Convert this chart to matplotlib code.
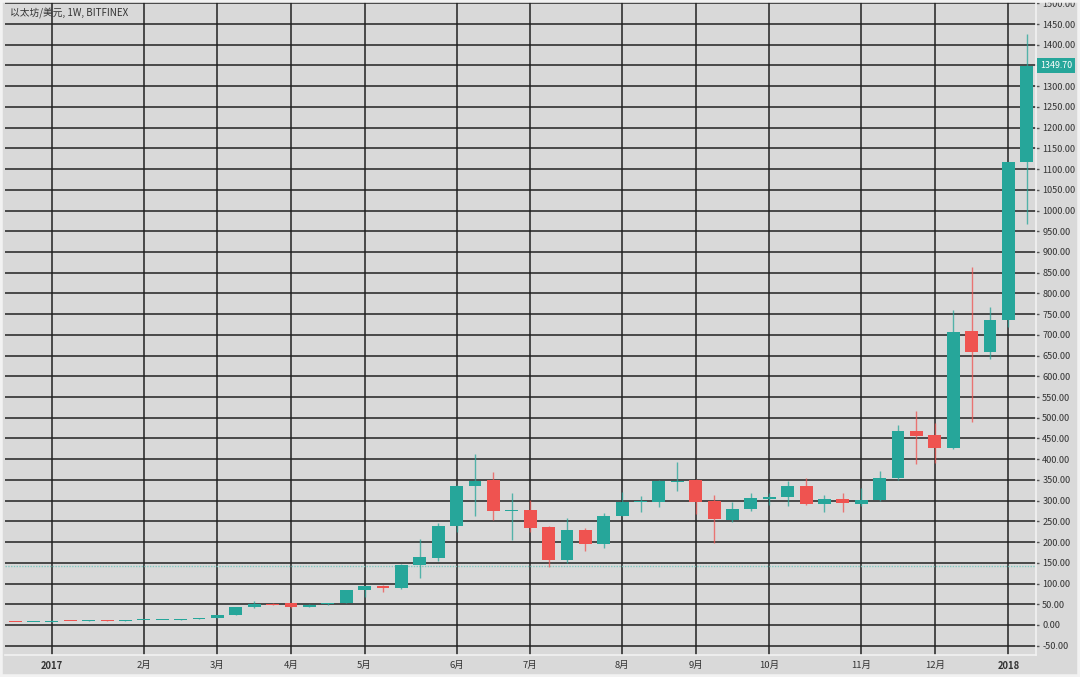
import numpy as np
import pandas as pd
import matplotlib
matplotlib.use("Agg")
import matplotlib.pyplot as plt
import matplotlib.patches as patches

plt.rcParams['font.family'] = ['Noto Sans CJK SC', 'DejaVu Sans']

# weekly ETH/USD candles (Bitfinex), week start dates
week_start = pd.date_range("2016-12-19", periods=56, freq="7D")
opens = [7.9, 7.2, 8.2, 10.4, 9.8, 10.8, 10.5, 11.3, 11.5, 12.8,
         14.2, 18.0, 23.4, 42.7, 51.0, 52.4, 43.0, 49.5, 53.8, 84.0,
         95.0, 90.0, 145.0, 162.0, 240.0, 336.0, 349.0, 276.0, 277.0, 236.0,
         157.0, 228.0, 195.0, 264.0, 296.0, 297.0, 346.0, 350.0, 299.0, 253.0,
         280.0, 304.0, 308.0, 336.0, 292.0, 304.0, 292.0, 302.0, 354.0, 468.0,
         458.0, 428.0, 709.0, 659.0, 736.0, 1116.0]
closes = [7.2, 8.0, 9.6, 9.8, 10.6, 10.5, 11.3, 11.5, 12.8, 14.2,
          17.8, 23.0, 42.7, 50.7, 49.0, 43.0, 49.0, 53.0, 84.0, 94.0,
          90.0, 145.0, 163.0, 240.0, 336.0, 348.0, 276.0, 277.0, 233.0, 157.0,
          228.0, 195.0, 264.0, 296.0, 299.0, 348.0, 348.0, 297.0, 255.0, 281.0,
          306.0, 310.0, 336.0, 292.0, 304.0, 295.0, 302.0, 354.0, 468.0, 457.0,
          428.0, 708.0, 659.0, 736.0, 1116.0, 1349.7]
highs = [8.1, 8.3, 11.0, 10.7, 11.0, 11.0, 11.6, 11.8, 13.1, 14.5,
         18.0, 24.0, 44.0, 58.5, 52.0, 53.0, 50.0, 54.0, 85.0, 95.0,
         97.0, 147.0, 207.0, 247.0, 338.0, 412.0, 369.0, 318.0, 301.0, 238.0,
         257.0, 233.0, 271.0, 320.0, 311.0, 350.0, 394.0, 352.0, 314.0, 297.0,
         318.0, 318.0, 348.0, 354.0, 314.0, 318.0, 330.0, 372.0, 482.0, 517.0,
         487.0, 760.0, 864.0, 768.0, 1118.0, 1427.0]
lows = [6.9, 7.0, 8.0, 9.6, 9.7, 10.3, 10.4, 11.0, 11.3, 12.5,
        14.0, 17.6, 23.0, 40.0, 48.0, 42.0, 42.5, 48.0, 52.0, 68.0,
        79.0, 88.0, 113.0, 155.0, 225.0, 263.0, 253.0, 205.0, 225.0, 141.0,
        150.0, 178.0, 186.0, 262.0, 273.0, 285.0, 324.0, 269.0, 198.0, 249.0,
        276.0, 290.0, 288.0, 290.0, 273.0, 273.0, 287.0, 300.0, 350.0, 388.0,
        390.0, 425.0, 490.0, 643.0, 720.0, 967.0]
month_labels = ["2017", "2月", "3月", "4月", "5月", "6月", "7月",
                "8月", "9月", "10月", "11月", "12月", "2018"]
month_dates = pd.to_datetime(["2017-01-02", "2017-02-06", "2017-03-06", "2017-04-03",
                              "2017-05-01", "2017-06-05", "2017-07-03", "2017-08-07",
                              "2017-09-04", "2017-10-02", "2017-11-06", "2017-12-04",
                              "2018-01-01"])
dotted_level = 142.0
last_price = 1349.70

green = '#26a69a'
red = '#ef5350'
bg = '#d9d9d9'

origin = pd.Timestamp("2017-01-02")
x = np.array((week_start - origin).days / 7.0)
xt = np.array((month_dates - origin).days / 7.0)
o = np.array(opens)
c = np.array(closes)
h = np.array(highs)
l = np.array(lows)
up = c >= o
cols = np.where(up, green, red)

fig = plt.figure(figsize=(10.8, 6.77), dpi=100, facecolor=bg)
ax = fig.add_axes([5 / 1080, 22 / 677, 1031 / 1080, 655 / 677])
ax.set_facecolor(bg)
ax.set_axisbelow(True)

ax.vlines(x, l, h, colors=cols, lw=1, alpha=0.75, zorder=2)
body = np.maximum(np.abs(c - o), 2.5)
ax.bar(x, body, bottom=np.minimum(o, c), width=0.7, color=cols, zorder=3, linewidth=0)

ax.axhline(dotted_level, color='#7fc8c0', lw=1, ls=(0, (1, 1)), zorder=1.5)

ax.set_xlim(-2.55, 53.5)
ax.set_ylim(-72.4, 1508)

ax.yaxis.tick_right()
yt = np.arange(-50, 1501, 50)
ax.set_yticks(yt)
# the 1350 label sits under the last-price tag
ax.set_yticklabels(["" if v == 1350 else "%.2f" % v for v in yt])
ax.tick_params(axis='y', length=2, width=1, color='#555555', labelsize=6.6,
               labelcolor='#333333', pad=2.5)
ax.set_xticks(xt)
ax.set_xticklabels(month_labels)
ax.tick_params(axis='x', length=0, labelsize=6.8, labelcolor='#333333', pad=4)
for t in ax.get_xticklabels():
    if t.get_text() in ("2017", "2018"):
        t.set_fontweight('bold')

ax.grid(True, color='#222222', lw=1.1)

for s in ['left', 'top']:
    ax.spines[s].set_visible(False)
for s in ['right', 'bottom']:
    ax.spines[s].set_color('#f2f2f2')
    ax.spines[s].set_linewidth(1.2)

ax.text(5 / 1031, 1 - 13 / 655, "以太坊/美元, 1W, BITFINEX", transform=ax.transAxes,
        fontsize=7, color='#333333', va='center', ha='left')

ax.annotate("%.2f" % last_price, xy=(1.0, last_price), xycoords=('axes fraction', 'data'),
            xytext=(3, 0), textcoords='offset points', ha='left', va='center',
            fontsize=6.4, color='white',
            bbox=dict(boxstyle='square,pad=0.35', fc=green, ec='none'))

fig.patches.append(patches.Rectangle((0, 0), 1, 1, transform=fig.transFigure, fill=False,
                                     edgecolor='#f2f2f2', lw=4))

fig.savefig("out.png", dpi=100, facecolor=bg)
